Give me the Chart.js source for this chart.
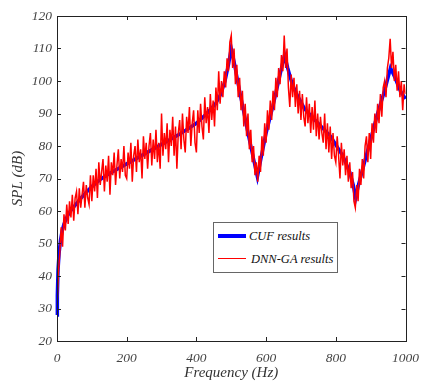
<!DOCTYPE html>
<html>
<head>
<meta charset="utf-8">
<script src="https://cdn.jsdelivr.net/npm/chart.js@4.4.1/dist/chart.umd.min.js"></script>
<style>
body { margin: 0; background: #fff; }
#wrap { position: relative; width: 428px; height: 383px; }
.legend { position: absolute; left: 213px; top: 222px; width: 123px; height: 49px; border: 1px solid #666; background: #fff;
  font-family: "Liberation Serif", serif; font-style: italic; font-size: 12.5px; color: #111; }
.legend .ln { position: absolute; left: 4px; width: 28px; }
.legend .tx { position: absolute; left: 35px; line-height: 14px; white-space: nowrap; }
</style>
</head>
<body>
<div id="wrap">
  <canvas id="grafica" width="428" height="383"></canvas>
  <div class="legend">
    <div class="ln" style="top:11px; height:4px; background:#0000ff;"></div>
    <div class="tx" style="top:6px;">CUF results</div>
    <div class="ln" style="top:35px; height:1px; background:#ff0000;"></div>
    <div class="tx" style="top:29px; left:37px;">DNN-GA results</div>
  </div>
</div>
<script>
// CUF results (smooth curve), frequency in Hz and SPL in dB
const cufFreq = [0,1,3,6,10,15,20,30,40,50,65,80,100,125,150,175,200,250,300,350,400,430,455,470,482,492,500,508,520,535,550,562,575,585,600,620,640,653,662,675,690,710,740,785,820,840,850,857,865,880,900,920,940,957,970,985,1000];
const cufSpl = [28,34,42,47,51,54,56,58.5,60.2,61.5,63.5,65.3,67.5,69.8,71.5,73,74.5,77.5,80.5,83.5,87,90,93,96,100,105,110,106,99,91,83,77,70.5,76,84,92.5,102,108,104,99,95.5,91.5,88,83,77,72,68,64,68,74,82,90,97,104,101,97,94.5];

// DNN-GA results, one value every 4 Hz from 0 to 1000
const dnnStep = 4;
const dnnSpl = [
  30,41,47,55,49,59,54,62,56,63,58,65,57,64,66,59,67,61,65,69,61,68,64,62,71,
  63,71,66,73,64,75,68,72,76,66,74,69,77,65,75,71,78,68,74,79,70,76,72,80,71,
  70,78,73,81,69,77,80,72,82,75,79,70,83,76,81,73,80,84,74,82,76,85,75,81,73,
  90,77,84,79,87,75,85,80,89,77,86,73,84,88,79,90,82,78,89,84,92,80,87,91,81,
  78,91,84,93,86,82,95,87,92,84,96,88,94,86,98,91,103,93,100,95,103,98,107,103,112,
  114,104,110,99,105,95,101,91,97,86,93,83,90,79,85,75,80,71,75,69,77,72,83,77,87,
  81,91,85,94,88,97,91,101,95,104,99,108,103,114,104,110,98,92,102,95,101,92,99,90,97,
  88,96,89,86,95,87,93,84,92,85,94,83,90,82,89,84,81,90,79,87,78,86,76,84,77,
  75,83,77,70,81,74,79,71,77,69,75,67,72,63,61,68,63,73,68,76,70,80,83,75,84,
  76,87,81,90,84,93,87,96,89,98,100,95,104,107,113,104,109,100,105,97,103,95,100,91,99,96
];

const xTicks = [0, 200, 400, 600, 800, 1000];
const yTicks = [20, 30, 40, 50, 60, 70, 80, 90, 100, 110, 120];

const fuente = '"Liberation Serif", "Times New Roman", serif';

// Marco y marcas hacia dentro
const marco = {
  id: 'marco',
  afterDatasetsDraw(chart) {
    const { ctx, chartArea: a, scales: { x, y } } = chart;
    ctx.save();
    ctx.strokeStyle = '#222';
    ctx.lineWidth = 1;
    ctx.strokeRect(Math.round(a.left) + 0.5, Math.round(a.top) + 0.5, Math.round(a.right - a.left), Math.round(a.bottom - a.top));
    ctx.beginPath();
    x.ticks.forEach(t => {
      const px = Math.round(x.getPixelForValue(t.value)) + 0.5;
      ctx.moveTo(px, a.bottom); ctx.lineTo(px, a.bottom - 4);
      ctx.moveTo(px, a.top); ctx.lineTo(px, a.top + 4);
    });
    y.ticks.forEach(t => {
      const py = Math.round(y.getPixelForValue(t.value)) + 0.5;
      ctx.moveTo(a.left, py); ctx.lineTo(a.left + 4, py);
      ctx.moveTo(a.right, py); ctx.lineTo(a.right - 4, py);
    });
    ctx.stroke();
    ctx.restore();
  }
};

new Chart(document.getElementById('grafica').getContext('2d'), {
  type: 'line',
  data: {
    datasets: [
      {
        label: 'DNN-GA results',
        data: dnnSpl.map((v, i) => ({ x: i * dnnStep, y: v })),
        borderColor: '#ff0000',
        borderWidth: 1.5,
        pointRadius: 0,
        tension: 0
      },
      {
        label: 'CUF results',
        data: cufFreq.map((f, i) => ({ x: f, y: cufSpl[i] })),
        borderColor: '#0000ff',
        borderWidth: 3.5,
        pointRadius: 0,
        tension: 0,
        clip: 4
      }
    ]
  },
  plugins: [marco],
  options: {
    responsive: false,
    animation: false,
    devicePixelRatio: 1,
    layout: { padding: { top: 16, right: 15, left: 0, bottom: 0 } },
    plugins: { legend: { display: false }, tooltip: { enabled: false } },
    scales: {
      x: {
        type: 'linear', min: 0, max: 1000,
        afterBuildTicks: s => { s.ticks = xTicks.map(v => ({ value: v })); },
        afterFit: s => { s.height = 42; },
        grid: { display: false, drawTicks: false },
        border: { display: false },
        ticks: { padding: 9, color: '#444', callback: v => String(v),
          font: { family: fuente, size: 13.5, style: 'italic' } },
        title: { display: true, text: 'Frequency (Hz)', color: '#333', padding: { top: 0, bottom: 1 },
          font: { family: fuente, size: 15, style: 'italic' } }
      },
      y: {
        min: 20, max: 120,
        afterBuildTicks: s => { s.ticks = yTicks.map(v => ({ value: v })); },
        afterFit: s => { s.width = 57; },
        grid: { display: false, drawTicks: false },
        border: { display: false },
        ticks: { padding: 5, color: '#444', callback: v => String(v),
          font: { family: fuente, size: 13.5, style: 'italic' } },
        title: { display: true, text: 'SPL (dB)', color: '#333', padding: { top: 9, bottom: 0 },
          font: { family: fuente, size: 15, style: 'italic' } }
      }
    }
  }
});
</script>
</body>
</html>
